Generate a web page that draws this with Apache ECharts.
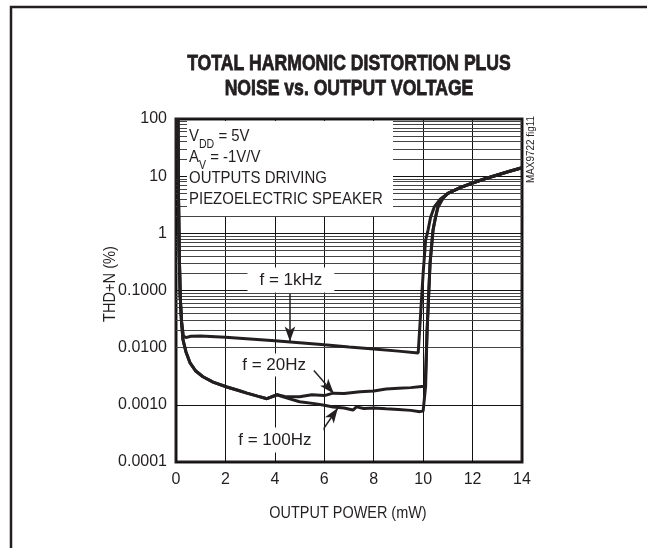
<!DOCTYPE html>
<html><head><meta charset="utf-8">
<script src="https://cdn.jsdelivr.net/npm/echarts@6/dist/echarts.min.js"></script>
<style>html,body{margin:0;padding:0;background:#fff}#c{width:647px;height:548px}</style>
</head><body><div id="c"></div>
<script>
const FONT = '"Liberation Sans Narrow","Liberation Sans",Arial,sans-serif';
const INK = '#231f20';

// ---- data (output power in mW, THD+N in %) ----
const power1k = [0.08,0.1,0.13,0.17,0.22,0.3,0.4,0.6,1,2,3,4,5,6,7,8,9,9.8,9.9,10.0,10.1,10.2,10.3,10.45,10.7,11,11.5,12,12.5,13,13.5,14];
const thd1k   = [100,5,0.5,0.08,0.03,0.016,0.015,0.0158,0.016,0.0152,0.0142,0.0132,0.0122,0.0112,0.0103,0.0095,0.0087,0.0081,0.04,0.2,0.75,1.15,1.9,2.9,4.0,5.0,6.3,7.6,9,10.5,12.2,14];

const power20 = [0.08,0.1,0.13,0.17,0.22,0.28,0.4,0.57,0.8,1.09,1.5,2.06,2.5,2.87,3.3,3.68,4.09,4.4,5.0,5.5,6.0,6.36,6.8,7.45,8.0,8.5,9.0,9.5,9.94,10.08,10.16,10.28,10.4,10.5,10.6,10.8,11,11.5,12,12.5,13,13.5,14];
const thd20   = [100,5,0.5,0.08,0.03,0.014,0.0085,0.0054,0.0039,0.0031,0.0025,0.00205,0.0018,0.0016,0.00142,0.00128,0.0015,0.0014,0.00138,0.0015,0.00145,0.0016,0.00158,0.00169,0.00175,0.0019,0.00195,0.002,0.0021,0.0021,0.02,0.3,1.14,1.9,2.9,4.1,5.0,6.3,7.6,9,10.5,12.2,14];

const power100 = [0.08,0.1,0.13,0.17,0.22,0.28,0.4,0.57,0.8,1.09,1.5,2.06,2.5,2.87,3.3,3.68,4.09,4.4,5.0,5.6,6.0,6.36,6.8,7.16,7.3,7.6,8.0,8.5,9.0,9.5,9.87,10.0,10.08,10.1,10.16,10.28,10.4,10.5,10.6,10.8,11,11.5,12,12.5,13,13.5,14];
const thd100   = [100,5,0.5,0.08,0.03,0.014,0.0085,0.0054,0.0039,0.0031,0.0025,0.00205,0.0018,0.0016,0.00142,0.00128,0.0015,0.00135,0.00113,0.00105,0.00098,0.00092,0.00088,0.00081,0.00092,0.00086,0.00088,0.00085,0.00083,0.0008,0.00076,0.00078,0.00082,0.0021,0.02,0.3,1.14,1.9,2.9,4.1,5.0,6.3,7.6,9,10.5,12.2,14];

// axis ticks
const xMin = 0, xMax = 14, xStep = 2;
const yMin = 0.0001, yMax = 100;
const yTickText = ['0.0001','0.0010','0.0100','0.1000','1','10','100'];

// annotations: label position and arrow [from, to] in data coordinates
const labels = ['f = 1kHz','f = 20Hz','f = 100Hz'];
const labelAt = [[4.65,0.152],[3.97,0.00497],[4.0,0.000243]];
const arrowFrom = [[4.61,0.088],[5.58,0.0040],[5.78,0.00029]];
const arrowTo   = [[4.61,0.0128],[6.39,0.00157],[6.55,0.00088]];

const zip = (a,b) => a.map((v,i)=>[v,b[i]]);

// minor log gridlines
const minorVals = [];
for (let e = -4; e < 2; e++) for (let m = 2; m <= 9; m++) minorVals.push(m * Math.pow(10, e));

const chart = echarts.init(document.getElementById('c'), null, {renderer:'canvas'});

const lineStyleData = {color: INK, width: 3};
const mkSeries = (name, d) => ({
  name, type:'line', data:d, showSymbol:false, symbol:'none', z: 40,
  lineStyle: lineStyleData, itemStyle:{color:INK}, animation:false, smooth:false
});

chart.setOption({
  backgroundColor:'#fff',
  animation:false,
  grid:{left:176, right:125, top:119, bottom:86, show:true, borderColor:INK, borderWidth:3, backgroundColor:'transparent'},
  xAxis:{type:'value', min:xMin, max:xMax, interval:xStep,
    axisLine:{show:false}, axisTick:{show:false},
    axisLabel:{color:INK, fontFamily:FONT, fontSize:16, margin:10},
    splitLine:{show:true, lineStyle:{color:'#111', width:1}}},
  yAxis:{type:'log', logBase:10, min:yMin, max:yMax, splitNumber:6,
    axisLine:{show:false}, axisTick:{show:false},
    axisLabel:{color:INK, fontFamily:FONT, fontSize:16, margin:9,
      formatter:(v)=> yTickText[Math.round(Math.log10(v)) + 4]},
    splitLine:{show:true, lineStyle:{color:'#111', width:1}}},
  series:[
    {type:'line', data:[], z:1, silent:true, animation:false,
      markLine:{silent:true, symbol:'none', animation:false, label:{show:false},
        lineStyle:{color:'#444', width:1, type:'solid'},
        data: minorVals.map(v=>({yAxis:v}))}},
    mkSeries('1kHz', zip(power1k, thd1k)),
    mkSeries('20Hz', zip(power20, thd20)),
    mkSeries('100Hz', zip(power100, thd100)),
    {type:'line', data:[], z:60, silent:true, animation:false,
      markLine:{silent:true, animation:false, symbol:['none','arrow'], symbolSize:[8,15], label:{show:false},
        lineStyle:{color:INK, width:1.5, type:'solid'}, itemStyle:{color:INK},
        data: arrowFrom.map((f,i)=>[{coord:f},{coord:arrowTo[i]}])}}
  ]
});

const px = labelAt.map(p => chart.convertToPixel({gridIndex:0}, p));
const pads = [[4,12],[3,7],[4,12]];

const graphics = [
  {type:'rect', shape:{x:11,y:7,width:700,height:700}, style:{fill:'none', stroke:INK, lineWidth:2.5}, z:100},
  {type:'text', x:349, y:64, scaleX:0.8, style:{text:'TOTAL HARMONIC DISTORTION PLUS', fontFamily:FONT, fontWeight:'bold', fontSize:22, fill:INK, align:'center', verticalAlign:'middle', stroke:INK, lineWidth:0.8}, z:100},
  {type:'text', x:349, y:89, scaleX:0.8, style:{text:'NOISE vs. OUTPUT VOLTAGE', fontFamily:FONT, fontWeight:'bold', fontSize:22, fill:INK, align:'center', verticalAlign:'middle', stroke:INK, lineWidth:0.8}, z:100},
  {type:'text', x:348, y:513, scaleX:0.85, style:{text:'OUTPUT POWER (mW)', fontFamily:FONT, fontSize:17, fill:INK, align:'center', verticalAlign:'middle'}, z:100},
  {type:'text', x:110, y:284, rotation:Math.PI/2, scaleX:0.86, style:{text:'THD+N (%)', fontFamily:FONT, fontSize:17, fill:INK, align:'center', verticalAlign:'middle'}, z:100},
  {type:'text', x:531, y:183, rotation:Math.PI/2, scaleX:0.9, style:{text:'MAX9722 fig11', fontFamily:FONT, fontSize:11, fill:INK, align:'left', verticalAlign:'middle'}, z:100},
  {type:'rect', shape:{x:187,y:121,width:206,height:95}, style:{fill:'#fff'}, z:50},
];
const rich = {n:{fontFamily:FONT, fontSize:17, fill:INK, lineHeight:20, verticalAlign:'top'}, s:{fontFamily:FONT, fontSize:12, fill:INK, lineHeight:23, verticalAlign:'bottom'}};
const infoLines = ['{n|V}{s|DD}{n| = 5V}','{n|A}{s|V}{n| = -1V/V}','{n|OUTPUTS DRIVING}','{n|PIEZOELECTRIC SPEAKER}'];
infoLines.forEach((t,i)=>{
  graphics.push({type:'text', x:189, y:128 + i*21, scaleX:0.88, style:{text:t, rich, fontFamily:FONT, fontSize:17, fill:INK, align:'left', verticalAlign:'top'}, z:101});
});
labels.forEach((t,i)=>{
  graphics.push({type:'text', x:px[i][0], y:px[i][1], style:{text:t, fontFamily:FONT, fontSize:17, fill:INK, align:'center', verticalAlign:'middle', backgroundColor:'#fff', padding:pads[i]}, z:55});
});
chart.setOption({graphic: graphics});
</script></body></html>
